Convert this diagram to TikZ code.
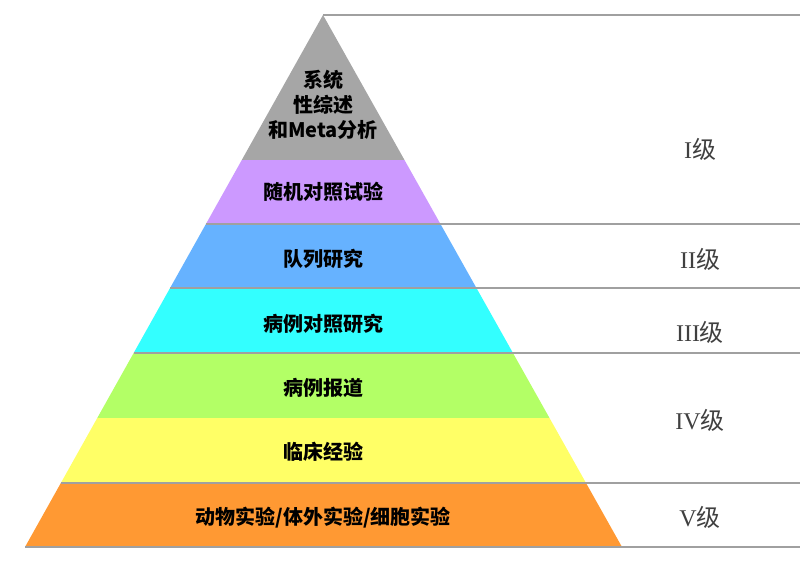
\documentclass[tikz,border=0pt]{standalone}
\usepackage{fontspec}
\newfontfamily\cjk{Noto Sans CJK SC}
\newfontfamily\romfont{Liberation Serif}
\usetikzlibrary{
  calc,
  positioning
}
\definecolor{bgray}{HTML}{A6A6A6}
\definecolor{bpurple}{HTML}{CC99FF}
\definecolor{bblue}{HTML}{66B2FF}
\definecolor{bcyan}{HTML}{33FFFF}
\definecolor{bgreen}{HTML}{B3FF66}
\definecolor{byellow}{HTML}{FFFF66}
\definecolor{borange}{HTML}{FF9933}
\definecolor{rulegray}{HTML}{A0A0A0}
\definecolor{lvlgray}{HTML}{404040}
\newcommand{\lvltext}[1]{{\romfont #1}{\cjk 级}}

\begin{document}
\begin{tikzpicture}[x=1pt,y=-1pt, rule/.style={draw=rulegray,line width=1.3pt}, tier/.style={font=\cjk\bfseries\fontsize{20}{25}\selectfont,align=center,text=black}, grade/.style={font=\fontsize{24}{28}\selectfont,text=lvlgray}]
\useasboundingbox (0,0) rectangle (800,565);
\coordinate (apex) at (323,15);
% bands of the pyramid
\foreach \ya/\yb/\col in {15/160/bgray,160/224/bpurple,224/288/bblue,288/353/bcyan,353/418/bgreen,418/483/byellow,483/547/borange}{
  \fill[\col] ({323-(\ya-15)/532*298},\ya) -- ({323+(\ya-15)/532*299},\ya) -- ({323+(\yb-15)/532*299},\yb) -- ({323-(\yb-15)/532*298},\yb) -- cycle;
}
% rules
\draw[rule] (apex) -- (800,15);
\foreach \y in {224,288,353,483,547}
  \draw[rule] ({323-(\y-15)/532*298},\y) -- (800,\y);
\node[tier] (meta) at (323,105) {系统\\性综述\\和Meta分析};
\node[tier] (rct) at (323,192) {随机对照试验};
\node[tier] (cohort) at (323,259) {队列研究};
\node[tier] (casectl) at (323,324) {病例对照研究};
\node[tier] (report) at (323,388) {病例报道};
\node[tier] (clinic) at (323,452) {临床经验};
\node[tier] (lab) at (323,518) {动物实验/体外实验/细胞实验};
\node[grade] (g1) at (700,149) {\lvltext{I}};
\node[grade] (g2) at (700,259) {\lvltext{II}};
\node[grade] (g3) at (700,332) {\lvltext{III}};
\node[grade] (g4) at (700,420) {\lvltext{IV}};
\node[grade] (g5) at (700,517) {\lvltext{V}};
\end{tikzpicture}
\end{document}
